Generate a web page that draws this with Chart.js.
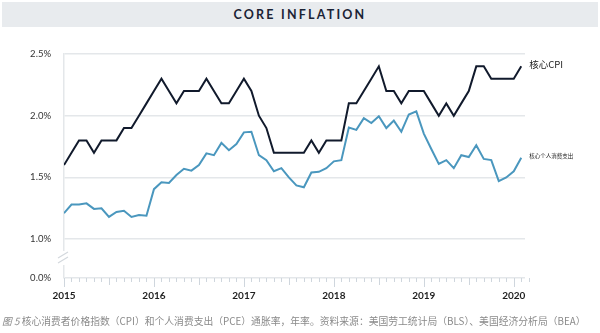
<!DOCTYPE html>
<html>
<head>
<meta charset="utf-8">
<script src="https://cdn.jsdelivr.net/npm/chart.js@4/dist/chart.umd.min.js"></script>
<style>
  html,body{margin:0;padding:0;background:#fff;}
  #wrap{position:relative;width:600px;height:333px;overflow:hidden;}
  #c{position:absolute;left:0;top:0;}
  #band{position:absolute;left:2px;top:2px;width:596px;height:25px;background:#e8ebee;
        font-family:Lato,"Open Sans",sans-serif;font-weight:700;font-size:12.5px;letter-spacing:2.2px;
        color:#1b2335;text-align:center;line-height:25px;}
  #cap{position:absolute;left:2px;top:314px;white-space:nowrap;font-family:"Noto Sans CJK SC",sans-serif;
       font-size:9.8px;color:#8a8a8a;}
</style>
</head>
<body>
<div id="wrap">
  <canvas id="c" width="600" height="333"></canvas>
  <div id="band">CORE INFLATION</div>
  <div id="cap"><i>图 5</i> 核心消费者价格指数（CPI）和个人消费支出（PCE）通胀率，年率。资料来源：美国劳工统计局（BLS）、美国经济分析局（BEA）</div>
</div>
<script>
// ---- data (monthly, Jan 2015 .. Feb 2020) ----
const yearLabels = ['2015','2016','2017','2018','2019','2020'];
const yearTickIdx = [0,12,24,36,48,60];
const yTickValues = [1.0,1.5,2.0,2.5];
const breakLabel = '0.0%';
const seriesNames = ['核心CPI','核心个人消费支出'];
const coreCPI = [
  1.6,1.7,1.8,1.8,1.7,1.8,1.8,1.8,1.9,1.9,2.0,2.1,
  2.2,2.3,2.2,2.1,2.2,2.2,2.2,2.3,2.2,2.1,2.1,2.2,
  2.3,2.2,2.0,1.9,1.7,1.7,1.7,1.7,1.7,1.8,1.7,1.8,
  1.8,1.8,2.1,2.1,2.2,2.3,2.4,2.2,2.2,2.1,2.2,2.2,
  2.2,2.1,2.0,2.1,2.0,2.1,2.2,2.4,2.4,2.3,2.3,2.3,
  2.3,2.4
];
const corePCE = [
  1.21,1.28,1.28,1.29,1.245,1.25,1.18,1.22,1.23,1.18,1.195,1.19,
  1.405,1.46,1.455,1.52,1.57,1.555,1.60,1.695,1.68,1.78,1.72,1.77,
  1.865,1.87,1.68,1.64,1.55,1.575,1.50,1.435,1.42,1.54,1.545,1.575,
  1.63,1.64,1.905,1.885,1.98,1.94,1.995,1.90,1.96,1.87,2.01,2.035,
  1.855,1.73,1.61,1.64,1.575,1.68,1.665,1.76,1.65,1.64,1.47,1.50,
  1.55,1.66
];
// ---------------------------------------------
const Y_MIN = 0.685, Y_MAX = 2.5, X_MAX = 61.5;
const gridColor = '#e4e7ea';

const breakPlugin = {
  id:'axisExtras',
  afterDraw(chart){
    const ctx = chart.ctx, x = chart.scales.x, y = chart.scales.y;
    const left = chart.chartArea.left, bottom = chart.chartArea.bottom;
    ctx.save();
    // axis break
    ctx.fillStyle = '#fff';
    ctx.fillRect(left-2, 251, 4, 14);
    ctx.strokeStyle = '#d3d8dd'; ctx.lineWidth = 1.2;
    ctx.beginPath();
    ctx.moveTo(left-6, 258); ctx.lineTo(left+4, 252);
    ctx.moveTo(left-6, 263); ctx.lineTo(left+4, 257);
    ctx.stroke();
    // month ticks
    ctx.strokeStyle = '#cfd6dd'; ctx.lineWidth = 1;
    for (let i = 0; i <= coreCPI.length; i++) {
      const px = Math.round(x.getPixelForValue(i)) + 0.5;
      const len = (i % 12 === 0) ? 9 : (i % 6 === 0 ? 7 : 4);
      ctx.beginPath(); ctx.moveTo(px, bottom); ctx.lineTo(px, bottom + len); ctx.stroke();
    }
    // end labels
    chart.data.datasets.forEach((ds, di) => {
      const meta = chart.getDatasetMeta(di);
      const pt = meta.data[meta.data.length - 1];
      ctx.fillStyle = '#222';
      ctx.textBaseline = 'middle';
      ctx.font = di === 0 ? '9.5px "Noto Sans CJK SC"' : '5.5px "Noto Sans CJK SC"';
      ctx.fillText(seriesNames[di], pt.x + 8, pt.y - 1.5);
    });
    ctx.restore();
  }
};

new Chart(document.getElementById('c'), {
  type:'line',
  data:{
    datasets:[
      {label:seriesNames[0], data:coreCPI.map((v,i)=>({x:i,y:v})), borderColor:'#111a2c', borderWidth:2,
       pointRadius:0, tension:0, fill:false},
      {label:seriesNames[1], data:corePCE.map((v,i)=>({x:i,y:v})), borderColor:'#4a97be', borderWidth:2,
       pointRadius:0, tension:0, fill:false}
    ]
  },
  options:{
    responsive:false, animation:false, devicePixelRatio:1,
    layout:{padding:{top:54, right:75, bottom:0, left:0}},
    plugins:{legend:{display:false}, tooltip:{enabled:false}, title:{display:false}},
    scales:{
      x:{
        type:'linear', min:0, max:X_MAX,
        afterBuildTicks:(s)=>{ s.ticks = yearTickIdx.map(v=>({value:v})); },
        afterFit:(s)=>{ s.height = 55; },
        grid:{display:false, drawTicks:false},
        border:{display:false},
        ticks:{autoSkip:false, maxRotation:0, padding:12, color:'#1f1f1f',
               font:{family:'Lato, "Open Sans", sans-serif', size:10, weight:'bold'},
               callback:(v)=>{ const k = yearTickIdx.indexOf(v); return k >= 0 ? yearLabels[k] : ''; }}
      },
      y:{
        type:'linear', min:Y_MIN, max:Y_MAX,
        afterBuildTicks:(s)=>{ s.ticks = [{value:Y_MIN}].concat(yTickValues.map(v=>({value:v}))); },
        afterFit:(s)=>{ s.width = 64; },
        grid:{color:gridColor, lineWidth:1.5, drawTicks:false},
        border:{display:true, color:gridColor, width:1.5},
        ticks:{padding:13, color:'#333',
               font:{family:'Lato, "Open Sans", sans-serif', size:9.5},
               callback:(v)=> v === Y_MIN ? breakLabel : v.toFixed(1) + '%'}
      }
    }
  },
  plugins:[breakPlugin]
});
</script>
</body>
</html>
